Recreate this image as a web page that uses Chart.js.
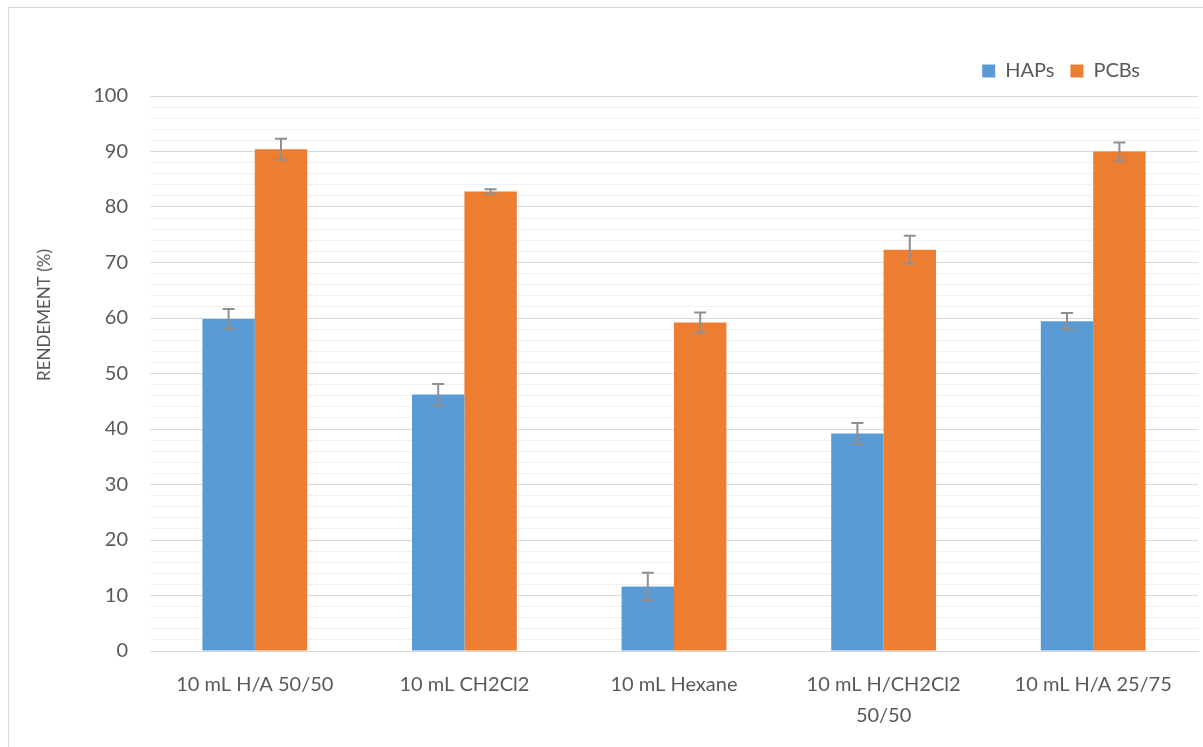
<!DOCTYPE html>
<html lang="fr">
<head>
<meta charset="utf-8">
<title>Rendement HAPs / PCBs</title>
<script src="https://cdn.jsdelivr.net/npm/chart.js@4/dist/chart.umd.min.js"></script>
<style>
    html, body { margin: 0; padding: 0; background: #ffffff; overflow: hidden; }
    #cadre {
        position: absolute;
        left: 8px;
        top: 7px;
        width: 1195px;
        height: 740px;
        border-top: 1px solid #d9d9d9;
        border-left: 1px solid #d9d9d9;
    }
</style>
</head>
<body>
<div id="cadre"><canvas id="rendementChart"></canvas></div>
<script>
// Données
const CATEGORIES = ['10 mL H/A 50/50', '10 mL CH2Cl2', '10 mL Hexane', ['10 mL H/CH2Cl2', '50/50'], '10 mL H/A 25/75'];
const HAPS_VALUES = [59.8, 46.2, 11.6, 39.2, 59.4];
const HAPS_ERRORS = [1.8, 1.9, 2.5, 1.9, 1.5];
const PCBS_VALUES = [90.4, 82.8, 59.2, 72.3, 90.0];
const PCBS_ERRORS = [1.9, 0.4, 1.8, 2.5, 1.6];

const FONT = 'Lato, "Open Sans", sans-serif';
const GRIS_TEXTE = '#595959';

// Barres d'erreur dessinées avec l'échelle y du graphique
const errorBarsPlugin = {
    id: 'errorBars',
    afterDatasetsDraw(chart) {
        const ctx = chart.ctx;
        const yScale = chart.scales.y;
        ctx.save();
        ctx.strokeStyle = '#8f8f8f';
        ctx.lineWidth = 2;
        chart.data.datasets.forEach((ds, i) => {
            const meta = chart.getDatasetMeta(i);
            meta.data.forEach((bar, j) => {
                const v = ds.data[j];
                const e = ds.errors[j];
                const yHaut = yScale.getPixelForValue(v + e);
                const yBas = yScale.getPixelForValue(v - e);
                ctx.beginPath();
                ctx.moveTo(bar.x, yHaut);
                ctx.lineTo(bar.x, yBas);
                ctx.moveTo(bar.x - 6, yHaut);
                ctx.lineTo(bar.x + 6, yHaut);
                ctx.moveTo(bar.x - 6, yBas);
                ctx.lineTo(bar.x + 6, yBas);
                ctx.stroke();
            });
        });
        ctx.restore();
    }
};

// Titre de l'axe Y (placé comme dans Excel, un peu au-dessus du centre)
const axisTitlePlugin = {
    id: 'axisTitle',
    afterDraw(chart) {
        const ctx = chart.ctx;
        ctx.save();
        ctx.translate(36, 307);
        ctx.rotate(-Math.PI / 2);
        ctx.fillStyle = GRIS_TEXTE;
        ctx.font = '17px ' + FONT;
        ctx.textAlign = 'center';
        ctx.textBaseline = 'middle';
        ctx.fillText('RENDEMENT (%)', 0, 0);
        ctx.restore();
    }
};

// Décale la légende (à gauche et vers le haut, comme dans Excel)
const legendShiftPlugin = {
    id: 'legendShift',
    afterLayout(chart) {
        const lg = chart.legend;
        if (lg) {
            lg.right -= 42;
            lg.top -= 5;
            lg.bottom -= 5;
            if (lg.adjustHitBoxes) lg.adjustHitBoxes();
        }
    }
};

const ctx = document.getElementById('rendementChart').getContext('2d');
new Chart(ctx, {
    type: 'bar',
    data: {
        labels: CATEGORIES,
        datasets: [
            { label: 'HAPs', data: HAPS_VALUES, errors: HAPS_ERRORS, backgroundColor: '#5B9BD5' },
            { label: 'PCBs', data: PCBS_VALUES, errors: PCBS_ERRORS, backgroundColor: '#ED7D31' }
        ]
    },
    options: {
        responsive: true,
        maintainAspectRatio: false,
        animation: false,
        datasets: {
            bar: { categoryPercentage: 0.5, barPercentage: 1.0 }
        },
        layout: {
            padding: { top: 42, right: 6, left: 0, bottom: 7 }
        },
        plugins: {
            tooltip: { enabled: false },
            legend: {
                position: 'top',
                align: 'end',
                labels: {
                    boxWidth: 13,
                    boxHeight: 13,
                    padding: 16,
                    color: GRIS_TEXTE,
                    font: { family: FONT, size: 20 }
                }
            }
        },
        scales: {
            x: {
                grid: { display: false },
                border: { color: '#d9d9d9', width: 1 },
                ticks: {
                    color: GRIS_TEXTE,
                    padding: 10,
                    maxRotation: 0,
                    autoSkip: false,
                    font: { family: FONT, size: 20, lineHeight: 1.55 }
                }
            },
            y: {
                min: 0,
                max: 100,
                border: { display: false },
                grid: {
                    drawTicks: false,
                    color: c => (c.tick.value % 10 === 0 ? '#d9d9d9' : '#f0f0f0'),
                    lineWidth: 1
                },
                ticks: {
                    stepSize: 2,
                    autoSkip: false,
                    padding: 22,
                    color: GRIS_TEXTE,
                    font: { family: FONT, size: 20 },
                    callback: v => (v % 10 === 0 ? v : '')
                },
                afterFit: scale => { scale.width = 141; }
            }
        }
    },
    plugins: [errorBarsPlugin, axisTitlePlugin, legendShiftPlugin]
});
</script>
</body>
</html>
